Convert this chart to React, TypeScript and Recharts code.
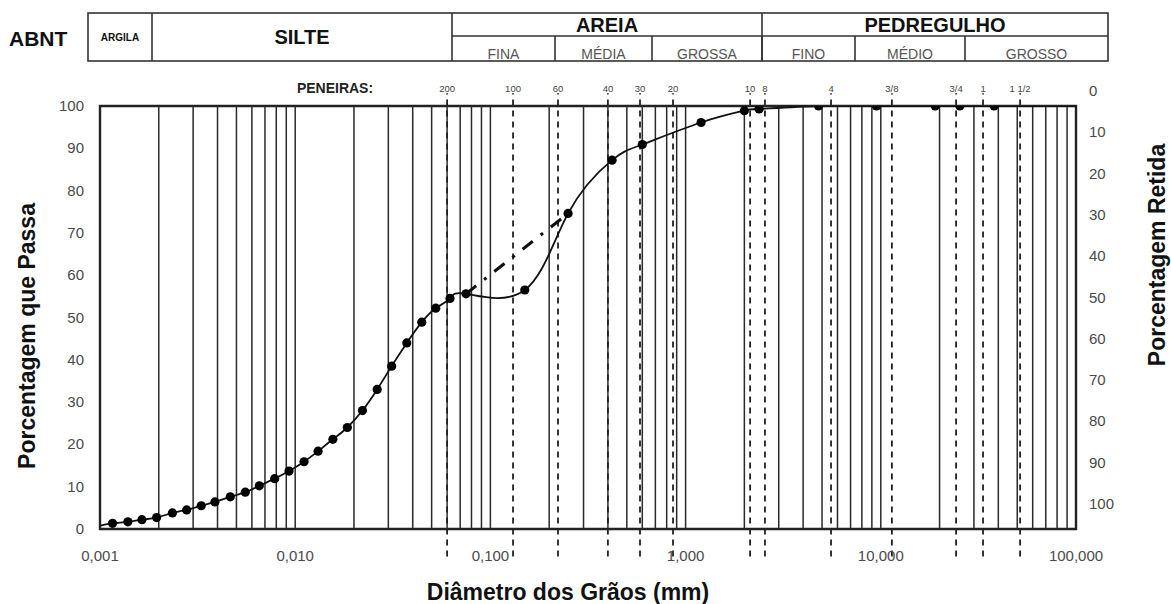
import React from "react";
import {
  LineChart,
  Line,
  XAxis,
  YAxis,
  CartesianGrid,
  ReferenceLine,
  ReferenceArea,
} from "recharts";

const W = 1171;
const H = 604;
const FONT = "'Liberation Sans', Arial, Helvetica, sans-serif";

// x axis (log): decade ticks and their labels
const X_TICKS = [0.001, 0.01, 0.1, 1, 10, 100];
const X_TICK_LABELS = ["0,001", "0,010", "0,100", "1,000", "10,000", "100,000"];
const Y_TICKS = [0, 10, 20, 30, 40, 50, 60, 70, 80, 90, 100];
const DECADES = [0.001, 0.01, 0.1, 1, 10];
const MULTS = [1, 2, 3, 4, 5, 6, 7, 8, 9];

// sedimentation readings (mm, % passing)
const sedDiam = [
  0.00116, 0.00139, 0.00164, 0.00195, 0.00235, 0.00278, 0.0033, 0.00388,
  0.00465, 0.00555, 0.00655, 0.00785, 0.0093, 0.0111, 0.0131, 0.0156,
  0.0185, 0.0221, 0.0263, 0.0312, 0.0373, 0.0445, 0.0525, 0.0621,
];
const sedPassa = [
  1.35, 1.7, 2.2, 2.7, 3.8, 4.5, 5.5, 6.4, 7.6, 8.7, 10.2, 11.9, 13.7, 15.9,
  18.4, 21.2, 24.0, 28.0, 33.0, 38.5, 44.0, 48.9, 52.2, 54.5,
];

// sieve readings (mm, % passing)
const sieveDiam = [0.075, 0.15, 0.25, 0.42, 0.6, 1.2, 2.0, 2.38, 4.8, 9.5, 19.0, 25.4, 38.1];
const sievePassa = [55.6, 56.5, 74.6, 87.2, 90.9, 96.1, 98.9, 99.3, 100, 100, 100, 100, 100];

// where the curve runs into the frame
const curveStart = { d: 0.001, p: 0.8 };
const curveEnd = { d: 100, p: 100 };

// alternative (dash-dot) connection between #200 and #60
const altDiam = [0.075, 0.25];
const altPassa = [55.6, 74.6];

// sieve marks printed on the sheet
const SIEVE_LABELS = ["200", "100", "60", "40", "30", "20", "10", "8", "4", "3/8", "3/4", "1", "1 1/2"];
const SIEVE_LINE_D = [0.06, 0.1306, 0.222, 0.4, 0.584, 0.862, 2.14, 2.55, 5.56, 11.4, 24.3, 33.4, 51.7];

// ABNT classification strip
const HEADER_TOP = [
  { label: "ARGILA", x0: 88, x1: 152, size: 10, full: true },
  { label: "SILTE", x0: 152, x1: 452, size: 20, full: true },
  { label: "AREIA", x0: 452, x1: 762, size: 20, full: false },
  { label: "PEDREGULHO", x0: 762, x1: 1108, size: 20, full: false },
];
const HEADER_SUB = [
  { label: "FINA", x0: 452, x1: 555 },
  { label: "MÉDIA", x0: 555, x1: 652 },
  { label: "GROSSA", x0: 652, x1: 762 },
  { label: "FINO", x0: 762, x1: 855 },
  { label: "MÉDIO", x0: 855, x1: 965 },
  { label: "GROSSO", x0: 965, x1: 1108 },
];

const curve = [
  { ...curveStart, dot: false },
  ...sedDiam.map((d, i) => ({ d, p: sedPassa[i], dot: true })),
  ...sieveDiam.map((d, i) => ({ d, p: sievePassa[i], dot: true })),
  { ...curveEnd, dot: false },
];
const altLine = altDiam.map((d, i) => ({ d, p: altPassa[i] }));
const gridX = DECADES.flatMap((dec) => MULTS.map((m) => +(m * dec).toPrecision(3))).filter(
  (v) => v > 0.001
);

const Marker = (props: any) => {
  const { cx, cy, payload, index } = props;
  if (!payload?.dot) return <g key={`m-${index}`} />;
  return <circle key={`m-${index}`} cx={cx} cy={cy} r={4.6} fill="#000" />;
};

const BottomTick = ({ x, y, payload, index }: any) => (
  <text x={x} y={y} dy={24} textAnchor="middle" fontSize={15} fill="#4a4a4a" fontFamily={FONT}>
    {X_TICK_LABELS[index] ?? payload.value}
  </text>
);

const LeftTick = ({ x, y, payload }: any) => (
  <text x={x - 8} y={y} dy={5} textAnchor="end" fontSize={15} fill="#4a4a4a" fontFamily={FONT}>
    {payload.value}
  </text>
);

// retained scale is printed a little above its grid lines on the sheet
const RightTick = ({ x, y, payload }: any) => (
  <text x={x + 5} y={y} dy={-10 - payload.value * 0.1} textAnchor="start" fontSize={15} fill="#4a4a4a" fontFamily={FONT}>
    {payload.value}
  </text>
);

export default function App() {
  return (
    <div style={{ position: "absolute", left: 0, top: 0, width: W, height: H, background: "#fff", fontFamily: FONT }}>
      <LineChart width={W} height={H} data={curve} margin={{ top: 106, right: 35, bottom: 45, left: 40 }}>
        <CartesianGrid vertical={false} stroke="#2a2a2a" strokeWidth={1.6} />
        <XAxis
          dataKey="d"
          type="number"
          scale="log"
          domain={[0.001, 100]}
          ticks={X_TICKS}
          allowDataOverflow
          axisLine={false}
          tickLine={false}
          height={30}
          tick={<BottomTick />}
        />
        <YAxis
          yAxisId="left"
          domain={[0, 100]}
          ticks={Y_TICKS}
          allowDataOverflow
          axisLine={false}
          tickLine={false}
          width={60}
          tick={<LeftTick />}
        />
        <YAxis
          yAxisId="right"
          orientation="right"
          domain={[0, 100]}
          reversed
          ticks={Y_TICKS}
          allowDataOverflow
          axisLine={false}
          tickLine={false}
          width={60}
          tick={<RightTick />}
        />
        {gridX.map((v) => (
          <ReferenceLine key={`g-${v}`} x={v} yAxisId="left" stroke="#2a2a2a" strokeWidth={1.5} />
        ))}
        {SIEVE_LINE_D.map((v, i) => (
          <ReferenceLine
            key={`s-${i}`}
            yAxisId="left"
            segment={[{ x: v, y: -6.5 }, { x: v, y: 103 }]}
            ifOverflow="visible"
            stroke="#222"
            strokeWidth={1.8}
            strokeDasharray="6 5"
            label={{ value: SIEVE_LABELS[i], position: "top", offset: 1, fontSize: 9.5, fill: "#444", fontFamily: FONT }}
          />
        ))}
        <ReferenceArea
          yAxisId="left"
          x1={0.001}
          x2={100}
          y1={0}
          y2={100}
          fill="none"
          fillOpacity={0}
          stroke="#222"
          strokeWidth={2.4}
        />
        {/* retained percentage, read on the right scale; it coincides with the passing curve */}
        <Line
          yAxisId="right"
          dataKey={(e: any) => 100 - e.p}
          type="natural"
          stroke="none"
          dot={false}
          activeDot={false}
          isAnimationActive={false}
        />
        <Line
          yAxisId="left"
          data={altLine}
          dataKey="p"
          type="linear"
          stroke="#111"
          strokeWidth={3}
          strokeDasharray="13 10 3 10"
          dot={false}
          isAnimationActive={false}
        />
        <Line
          yAxisId="left"
          dataKey="p"
          type="natural"
          stroke="#111"
          strokeWidth={1.8}
          dot={<Marker />}
          activeDot={false}
          isAnimationActive={false}
        />
      </LineChart>

      <svg width={W} height={H} style={{ position: "absolute", left: 0, top: 0, pointerEvents: "none" }}>
        <g fontFamily={FONT}>
          <text x={9} y={46} fontSize={21} fontWeight="bold" fill="#111">ABNT</text>
          <rect x={88} y={13} width={1020} height={48} fill="none" stroke="#333" strokeWidth={1.6} />
          <line x1={452} y1={36} x2={1108} y2={36} stroke="#333" strokeWidth={1.6} />
          {HEADER_TOP.slice(1).map((c) => (
            <line key={c.label} x1={c.x0} y1={13} x2={c.x0} y2={61} stroke="#333" strokeWidth={1.6} />
          ))}
          {HEADER_SUB.slice(1).map((c) => (
            <line key={c.label} x1={c.x0} y1={36} x2={c.x0} y2={61} stroke="#333" strokeWidth={1.6} />
          ))}
          {HEADER_TOP.map((c) => (
            <text
              key={c.label}
              x={(c.x0 + c.x1) / 2}
              y={c.full ? 37 + c.size * 0.36 : 25 + c.size * 0.36}
              textAnchor="middle"
              fontSize={c.size}
              fontWeight="bold"
              fill="#111"
            >
              {c.label}
            </text>
          ))}
          {HEADER_SUB.map((c) => (
            <text key={c.label} x={(c.x0 + c.x1) / 2} y={59} textAnchor="middle" fontSize={14} fill="#555">
              {c.label}
            </text>
          ))}
          <text x={335} y={93} textAnchor="middle" fontSize={14} fontWeight="bold" fill="#222">PENEIRAS:</text>
          <text x={568} y={600} textAnchor="middle" fontSize={23} fontWeight="bold" fill="#111">
            Diâmetro dos Grãos (mm)
          </text>
          <text
            x={0}
            y={0}
            transform="translate(35 336) rotate(-90)"
            textAnchor="middle"
            fontSize={23}
            fontWeight="bold"
            fill="#111"
          >
            Porcentagem que Passa
          </text>
          <text
            x={0}
            y={0}
            transform="translate(1165 255) rotate(-90)"
            textAnchor="middle"
            fontSize={23}
            fontWeight="bold"
            fill="#111"
          >
            Porcentagem Retida
          </text>
        </g>
      </svg>
    </div>
  );
}
